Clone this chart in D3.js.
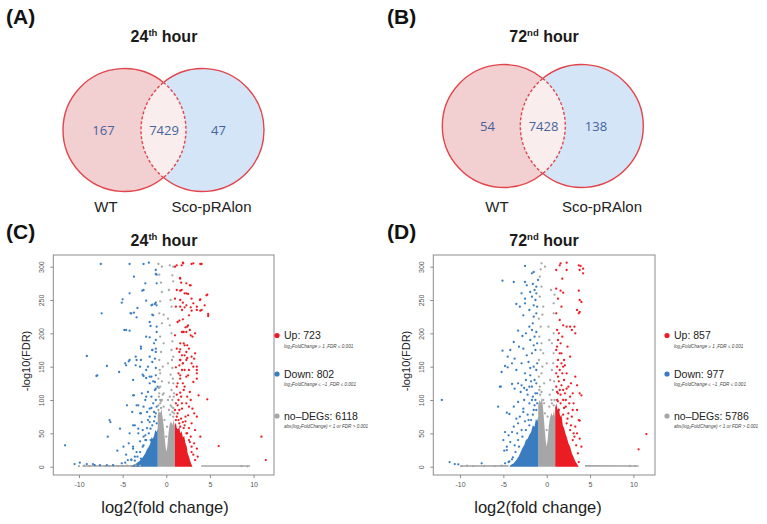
<!DOCTYPE html>
<html>
<head>
<meta charset="utf-8">
<script src="https://cdn.jsdelivr.net/npm/d3@7"></script>
<style>
  body{margin:0;background:#fff;}
  svg{display:block;font-family:"Liberation Sans",Arial,sans-serif;}
</style>
</head>
<body>
<svg id="fig" width="767" height="524"></svg>
<script>
// ---- data ----
var vennSets = ["WT", "Sco-pRAlon"];
var venn24 = [167, 7429, 47];   // WT only, both, Sco-pRAlon only
var venn72 = [54, 7428, 138];

var legendNames = ["Up", "Down", "no\u2013DEGs"];
var legendNotes = ["FoldChange \u2265 1 ,FDR \u2264 0.001",
                   "FoldChange \u2264 \u22121 ,FDR \u2264 0.001",
                   "FoldChange) < 1  or FDR > 0.001"];
var legendPre = ["log", "log", "abs(log"];
var legend24 = [723, 802, 6118];
var legend72 = [857, 977, 5786];

var xTicks = [-10, -5, 0, 5, 10];
var yTicks = [0, 50, 100, 150, 200, 250, 300];

// 24th hour: [log2FC, -log10FDR]
var up24 = [[1.0,300],[1.2,302],[1.9,306],[2.9,304],[3.9,304],[1.6,282],[1.7,276],[2.8,272],[1.2,265],[1.6,264],[2.3,260],[4.7,258],[3.9,251],[1.0,252],[1.9,246],[3.1,245],[1.1,240],[2.3,242],[1.8,235],[2.9,234],[3.5,235],[3.9,234],[4.8,226],[1.3,217],[2.5,212],[2.7,205],[1.8,202],[2.0,202],[3.0,195],[1.0,197],[1.2,177],[1.6,176],[1.8,167],[2.3,172],[2.9,165],[3.3,170],[1.6,160],[1.9,155],[1.1,149],[2.1,145],[2.5,137],[3.5,140],[3.1,127],[1.6,132],[1.2,120],[2.1,120],[2.7,112],[1.6,111],[4.7,101],[3.7,107],[1.4,100],[2.3,95],[1.8,87],[3.0,87],[2.5,77],[3.5,75],[1.2,75],[1.9,67],[2.9,65],[1.6,60],[3.3,55],[2.3,50],[3.9,45],[6.0,31],[10.9,45],[11.4,10],[2.7,37],[3.5,27],[2.9,22],
  [1.95,305],[3.1,305],[4.05,304],[1.76,302],[1.57,283],[2.7,272],[2.3,275],[1.76,265],[2.1,260],[2.5,259],[3.86,250],[4.6,257],[1.6,250],[2.9,252],[4.4,242],[4.8,229],[3.5,240],[4.05,235],[2.8,239],[2.1,239],[1.6,240],[2.6,227],[1.5,219],[1.9,221],[2.2,209],[2.4,210],[2.3,202],[2.8,197],[3.3,200],[1.9,202],[1.6,185],[2.0,185],[2.1,182],[2.4,182],[2.6,177],[1.5,172],[2.1,167],[2.4,163],[3.2,162],[1.6,160],[1.9,155],[2.3,160],[2.9,155],[3.5,150],[1.5,152],[1.8,145],[2.6,145],[3.1,150],[3.5,145],[1.6,137],[2.3,135],[3.5,132],
  [1.3,92],[1.7,105],[2.0,115],[2.6,90],[1.4,70],[2.1,62],[2.6,58],[1.3,125],[2.8,100],[3.2,80],[2.2,75],[1.5,65],
  [1.1,70],[1.3,80],[1.7,72],[2.0,58],[2.4,50],[2.6,40],[2.9,30],[3.1,18],[3.3,10],[2.8,45],[1.5,85],[2.2,68],[1.1,95],[1.2,108],[1.4,140],[1.9,125],[2.4,105],[1.0,85],[3.2,35],[3.6,15],[1.8,95]];
var down24 = [[-7.5,304],[-4.2,304],[-2.6,304],[-2.0,306],[-3.7,285],[-2.4,275],[-1.1,288],[-1.2,295],[-2.6,265],[-4.2,260],[-5.0,251],[-5.1,246],[-1.3,244],[-1.7,242],[-1.1,242],[-7.4,230],[-3.7,231],[-3.3,238],[-3.4,224],[-4.0,230],[-1.6,228],[-4.8,205],[-4.2,204],[-1.8,211],[-2.3,195],[-1.1,202],[-2.9,180],[-2.9,177],[-1.4,185],[-1.6,175],[-1.2,172],[-9.1,166],[-3.5,165],[-3.4,160],[-4.2,160],[-6.8,151],[-4.6,152],[-3.0,150],[-5.4,142],[-7.9,137],[-2.3,145],[-1.7,135],[-2.6,136],[-1.3,127],[-1.9,125],[-1.2,117],[-2.1,112],[-2.8,110],[-3.7,107],[-2.3,105],[-1.7,105],[-4.5,92],[-3.4,92],[-2.6,90],[-1.9,87],[-3.9,82],[-2.9,80],[-6.5,70],[-6.4,67],[-3.8,62],[-3.2,57],[-5.3,57],[-2.7,55],[-2.1,70],[-6.7,45],[-4.2,50],[-11.6,32],[-5.6,24],[-4.9,30],[-3.8,30],[-2.3,40],[-10.5,4],[-9.9,6],[-9.1,4],[-8.4,4],[-8.2,2.5],[-7.6,2.5],[-6.8,2.5],[-6.1,2.5],[-4.7,6],[-4.4,10],[-4.0,11],[-3.6,15],
  [-1.2,289],[-1.1,275],[-2.75,264],[-2.3,249],[-1.2,246],[-1.6,243],[-4.1,230],[-1.5,227],[-4.6,205],[-1.9,217],[-1.1,210],[-1.9,194],[-1.2,190],[-1.2,177],[-1.6,175],[-1.9,165],[-1.3,162],[-4.3,158],[-3.5,152],[-2.9,160],[-2.1,150],[-1.6,157],[-1.2,148],[-8.0,136],[-4.7,155],[-2.7,138],[-1.9,135],[-1.5,128],[-2.3,133],[-3.8,130],[-1.2,137],
  [-3.8,107],[-3.2,92],[-3.0,80],[-2.4,100],[-2.2,82],[-3.6,62],[-2.8,67],[-1.9,67],[-1.8,57],[-3.2,50],[-2.4,47],[-4.3,35],[-3.8,27],[-3.4,22],[-2.6,32],[-1.8,40],[-1.4,82],[-1.2,100],[-1.3,115],[-1.0,120],[-4.0,10],[-5.1,5],
  [-1.3,75],[-1.6,62],[-2.0,50],[-2.4,40],[-2.7,30],[-3.0,22],[-3.3,15],[-3.6,9],[-1.9,75],[-2.6,45],[-1.1,90],[-1.5,95],[-1.1,65],[-1.4,68],[-2.2,58],[-3.0,38],[-1.2,80],[-1.7,88],[-4.6,18],[-2.9,12]];
var nodeg24 = [[-0.9,304],[-0.5,300],[0.4,302],[0.8,300],[-0.8,288],[0.7,287],[-0.6,276],[0.8,278],[-0.5,262],[0.3,265],[0.5,250],[-0.7,248],[0.6,240],[-0.8,230],[-0.3,228],[0.2,222],[-0.5,215],[0.4,212],[0.6,200],[-0.7,195],[-0.3,185],[0.7,188],[0.6,175],[-0.6,172],[0.8,165],[-0.8,160],[0.2,155],[-0.4,150],[0.7,148],[-0.7,140],[0.5,138],[-0.9,132],[-0.5,128],[0.3,126],[0.8,125],[-0.7,120],[0.6,115],[-0.8,110],[-0.4,108],[0.4,105],[0.7,100],[-0.6,98],[-0.9,92],[0.5,92],[0.8,88],[-0.3,90],[0.9,80],[-0.7,100],[0.85,105],[-0.85,118],[0.75,132],[-0.75,145],[0.65,160],[0.9,110],[-0.9,85],
  [-0.7,95],[-0.5,100],[-0.2,70],[0.1,60],[0.3,85],[0.6,90],[0.8,75],[-0.85,105],[0.0,45],[-0.3,110],[0.2,100],[-0.6,88],[0.45,78],[0.7,82],
  [-10.0,1],[-9.4,1.5],[-8.8,1],[-7.0,1],[-6.5,0.8],[-6.0,1.2],[-5.5,1],[-5.0,1],[-4.5,1.5],[-4.0,1],[-3.5,2],[-3.0,1.5],[9.3,0.6],[8.6,0.8]];
var upCore24 = [[0.98,0],[0.98,62],[1.1,66],[1.2,58],[1.35,56],[1.5,60],[1.6,50],[1.75,53],[1.9,44],[2.05,46],[2.2,35],[2.35,30],[2.45,20],[2.6,15],[2.75,8],[2.9,3],[3.0,0]];
var downCore24 = [[-0.98,0],[-0.98,58],[-1.1,52],[-1.25,55],[-1.4,46],[-1.55,42],[-1.7,44],[-1.85,34],[-2.0,30],[-2.2,26],[-2.4,20],[-2.6,16],[-2.8,12],[-3.1,8],[-3.4,5],[-3.8,2.5],[-4.0,0]];
var nodegCore24 = [[-0.98,0],[-0.98,78],[-0.85,84],[-0.7,80],[-0.55,86],[-0.4,72],[-0.25,55],[-0.12,35],[0.0,22],[0.12,30],[0.25,50],[0.4,64],[0.55,68],[0.7,62],[0.85,70],[0.98,60],[0.98,0]];
var tail24 = [[-9.6,0],[-9.6,2.2],[-3.2,2.6],[-3.2,0],[4.0,0],[4.0,2.2],[9.6,2.0],[9.6,0]];

// 72nd hour
var up72 = [[1.5,302],[1.6,305],[2.3,306],[1.1,295],[1.8,282],[2.3,295],[3.7,302],[3.9,301],[4.2,297],[4.2,290],[3.8,295],[1.1,267],[1.6,264],[1.9,261],[3.7,264],[3.8,250],[4.0,247],[1.3,252],[1.7,240],[1.1,230],[1.5,220],[3.5,235],[3.7,230],[3.8,232],[1.9,212],[2.3,210],[2.7,210],[2.9,205],[3.2,210],[3.3,200],[1.3,190],[1.6,185],[1.2,180],[1.7,170],[1.3,160],[2.0,160],[2.7,165],[1.2,150],[1.5,145],[2.1,152],[2.3,140],[1.3,135],[3.3,135],[3.5,122],[3.8,110],[4.0,107],[1.7,122],[2.3,117],[2.7,105],[1.3,110],[1.9,100],[3.1,95],[3.5,85],[3.7,70],[3.8,69],[2.5,80],[2.9,75],[3.3,60],[3.8,42],[4.0,30],[3.5,50],[3.0,40],[11.5,49],[10.6,26],[3.7,7],
  [1.1,120],[1.4,128],[1.8,140],[2.0,130],[1.2,100],[1.6,95],[2.2,90],[1.4,85],[1.9,78],[2.6,95],[1.1,175],[1.4,200],[1.8,195],[1.2,205],[1.5,170],[2.4,180],[1.7,155],[1.9,115],[2.8,125],[3.0,110],[1.3,70],[2.3,65],[2.7,55],[3.2,45],[2.1,110],
  [1.2,112],[1.6,108],[2.0,88],[2.4,72],[2.8,62],[3.1,50],[3.4,32],[3.6,20],[1.1,140],[1.9,150],[2.5,120],[2.2,100],[1.5,115],[3.0,85],[1.3,98]];
var down72 = [[-2.5,301],[-1.7,290],[-1.5,292],[-5.1,279],[-3.8,277],[-2.5,277],[-2.3,272],[-1.6,274],[-1.2,270],[-1.9,262],[-2.9,260],[-1.2,260],[-2.5,252],[-1.7,255],[-3.5,244],[-2.5,245],[-3.1,240],[-1.5,242],[-2.0,235],[-2.7,227],[-1.5,225],[-1.2,230],[-3.3,204],[-2.8,196],[-2.4,200],[-2.0,210],[-1.7,205],[-1.2,202],[-3.8,187],[-3.2,180],[-4.2,175],[-2.7,177],[-1.9,190],[-1.5,182],[-5.1,174],[-4.5,165],[-3.7,162],[-2.3,167],[-1.7,170],[-4.8,151],[-4.5,149],[-5.2,142],[-4.0,155],[-2.9,155],[-2.1,157],[-1.5,150],[-3.5,145],[-2.5,140],[-1.9,137],[-5.3,120],[-4.0,124],[-3.7,117],[-2.9,122],[-2.3,115],[-1.7,120],[-1.2,125],[-12.1,100],[-5.6,90],[-4.6,81],[-4.3,79],[-3.8,90],[-3.3,97],[-2.7,87],[-2.0,95],[-1.5,85],[-4.8,52],[-4.4,47],[-3.8,60],[-3.3,65],[-2.9,55],[-4.9,24],[-4.6,30],[-4.2,37],[-3.7,32],[-3.3,40],[-11.2,7],[-10.6,4],[-10.2,3.5],[-7.5,5],[-4.8,5],[-4.4,7],[-4.0,11],
  [-1.3,110],[-1.6,105],[-2.2,108],[-2.6,100],[-1.1,95],[-1.4,130],[-1.8,128],[-2.4,130],[-3.0,112],[-1.2,145],[-1.9,148],[-2.6,118],[-3.1,75],[-2.2,78],[-1.8,70],[-2.5,68],[-3.5,72],[-2.0,62],[-1.3,100],[-1.1,155],[-1.3,175],[-1.1,185],[-1.4,195],[-1.6,215],[-1.1,240],[-1.3,250],[-1.0,280],[-1.4,265],[-5.4,120],[-4.0,52],[-5.0,40],[-4.6,25],[-3.3,125],
  [-1.2,85],[-1.6,78],[-2.4,55],[-2.8,45],[-3.2,30],[-3.6,22],[-3.9,14],[-4.3,8],[-2.1,70],[-1.4,92],[-2.7,82],[-3.4,50],[-1.1,110],[-2.0,120],[-1.7,100]];
var nodeg72 = [[-0.6,305],[-0.7,296],[-0.2,300],[-0.6,270],[-0.8,255],[-0.4,240],[0.8,245],[-0.9,222],[-0.7,210],[0.8,230],[0.2,210],[0.8,200],[-0.6,185],[0.6,185],[-0.4,170],[0.8,170],[-0.9,160],[0.0,155],[0.6,145],[-0.6,140],[0.4,130],[-0.8,120],[0.7,115],[-0.4,100],[0.6,95],[-0.8,285],[0.5,265],[0.9,258],[-0.5,228],[0.3,190],[-0.85,195],[-0.7,175],[0.75,155],[-0.3,125],[0.85,128],[-0.9,135],[-0.75,108],[0.35,108],[0.9,100],[-0.5,150],
  [-0.6,112],[-0.3,95],[0.1,75],[0.3,90],[0.55,100],[0.8,92],[-0.85,115],[0.0,55],[-0.2,80],
  [-9.8,1],[-9.2,1.5],[-8.5,1],[-7.2,1.2],[-6.0,1],[-5.2,1.5],[10.2,1],[9.6,1.2]];
var upCore72 = [[0.98,0],[0.98,88],[1.1,95],[1.25,85],[1.4,88],[1.55,75],[1.7,78],[1.85,62],[2.0,58],[2.15,50],[2.3,45],[2.5,35],[2.7,30],[2.9,20],[3.1,14],[3.3,8],[3.5,4],[3.7,0]];
var downCore72 = [[-0.98,0],[-0.98,75],[-1.1,68],[-1.25,72],[-1.4,60],[-1.6,62],[-1.8,52],[-2.0,48],[-2.2,42],[-2.4,40],[-2.6,32],[-2.8,28],[-3.0,22],[-3.2,16],[-3.5,10],[-3.8,5],[-4.2,2],[-4.3,0]];
var nodegCore72 = [[-0.98,0],[-0.98,92],[-0.85,100],[-0.7,96],[-0.55,104],[-0.4,85],[-0.25,60],[-0.12,40],[0.0,30],[0.12,42],[0.25,62],[0.4,75],[0.55,80],[0.7,76],[0.85,84],[0.98,72],[0.98,0]];
var tail72 = [[-10.0,0],[-10.0,2.2],[-4.4,2.6],[-4.4,0],[4.4,0],[4.4,2.4],[10.6,2.0],[10.6,0]];

var red = "#ec1c24", blue = "#3a7cc0", grey = "#a6a6a6";

var svg = d3.select("#fig");

function title(x, y, num, sup){
  var t = svg.append("text").attr("x", x).attr("y", y)
            .attr("text-anchor", "middle")
            .style("font-weight", "bold").style("font-size", "16px").attr("fill", "#1a1a1a");
  t.append("tspan").text(num);
  t.append("tspan").text(sup).style("font-size", "9.5px").attr("dy", -6);
  t.append("tspan").text(" hour").attr("dy", 6);
}
function tag(x, y, s){
  svg.append("text").attr("x", x).attr("y", y).text(s)
     .style("font-weight", "bold").style("font-size", "21px").attr("fill", "#111");
}

//venn with two equal circles
function venn(p, counts){
  var r = p.r, a = Math.acos((p.x2 - p.x1) / 2 / r);
  var g = svg.append("g");
  g.append("circle").attr("cx", p.x1).attr("cy", p.cy).attr("r", r).attr("fill", "#f2cfd0");
  g.append("circle").attr("cx", p.x2).attr("cy", p.cy).attr("r", r).attr("fill", "#d5e5f8");
  var lens = d3.path();
  lens.arc(p.x1, p.cy, r, -a, a);
  lens.arc(p.x2, p.cy, r, Math.PI - a, Math.PI + a);
  lens.closePath();
  g.append("path").attr("d", lens.toString()).attr("fill", "#f9eded");

  var outer1 = d3.path(); outer1.arc(p.x1, p.cy, r, a, 2*Math.PI - a);
  var outer2 = d3.path(); outer2.arc(p.x2, p.cy, r, Math.PI + a, 3*Math.PI - a);
  var inner1 = d3.path(); inner1.arc(p.x1, p.cy, r, -a, a);
  var inner2 = d3.path(); inner2.arc(p.x2, p.cy, r, Math.PI - a, Math.PI + a);
  [outer1, outer2].forEach(function(d){
    g.append("path").attr("d", d.toString()).attr("fill", "none")
     .attr("stroke", "#e2454c").attr("stroke-width", 1.4);
  });
  [inner1, inner2].forEach(function(d){
    g.append("path").attr("d", d.toString()).attr("fill", "none")
     .attr("stroke", "#e2454c").attr("stroke-width", 1.4).attr("stroke-dasharray", "3,2");
  });

  g.selectAll("text.n").data(counts).enter().append("text")
   .attr("class", "n")
   .attr("x", function(d, i){ return p.nx[i]; })
   .attr("y", p.cy + 4.5)
   .attr("text-anchor", "middle")
   .style("font-family", "'Open Sans', sans-serif").style("font-size", "13px")
   .attr("fill", "#45649c")
   .text(function(d){ return d; });
  g.selectAll("text.s").data(vennSets).enter().append("text")
   .attr("class", "s")
   .attr("x", function(d, i){ return p.lx[i]; })
   .attr("y", 212)
   .attr("text-anchor", "middle")
   .style("font-size", "15px").attr("fill", "#222")
   .text(function(d){ return d; });
}

function volcano(p, up, down, nodeg, cores, tail, counts){
  var top = 255, bottom = 475;
  var x = d3.scaleLinear().domain(p.xDomain).range([p.left, p.right]);
  var y = d3.scaleLinear().domain([-12.45, 317.5]).range([bottom, top]);
  var g = svg.append("g");

  var poly = d3.line().x(function(d){ return x(d[0]); }).y(function(d){ return y(d[1]); });
  g.append("path").attr("d", poly(tail.slice(0, 4)) + "Z").attr("fill", grey);
  g.append("path").attr("d", poly(tail.slice(4)) + "Z").attr("fill", grey);
  g.append("path").attr("d", poly(cores[2]) + "Z").attr("fill", grey);
  g.append("path").attr("d", poly(cores[1]) + "Z").attr("fill", blue);
  g.append("path").attr("d", poly(cores[0]) + "Z").attr("fill", red);

  [[nodeg, grey], [down, blue], [up, red]].forEach(function(s){
    g.append("g").selectAll("circle").data(s[0]).enter().append("circle")
     .attr("cx", function(d){ return x(d[0]); })
     .attr("cy", function(d){ return y(d[1]); })
     .attr("r", 1.15)
     .attr("fill", s[1]);
  });

  g.append("rect").attr("x", p.left).attr("y", top)
   .attr("width", p.right - p.left).attr("height", bottom - top)
   .attr("fill", "none").attr("stroke", "#8c8c8c").attr("stroke-width", 1);

  var xa = g.append("g").attr("transform", "translate(0," + bottom + ")")
            .call(d3.axisBottom(x).tickValues(xTicks).tickSize(3).tickPadding(4)
                    .tickFormat(function(d){ return d; }));
  var ya = g.append("g").attr("transform", "translate(" + p.left + ",0)")
            .call(d3.axisLeft(y).tickValues(yTicks).tickSize(3));
  [xa, ya].forEach(function(a){
    a.select(".domain").remove();
    a.selectAll("line").attr("stroke", "#8c8c8c");
    a.selectAll("text").attr("fill", "#555").style("font-size", "7px")
     .style("font-family", "'Liberation Sans',Arial,sans-serif");
  });
  ya.selectAll("text").attr("transform", "rotate(-90)")
    .attr("x", 0).attr("y", -9).attr("dy", 0).attr("text-anchor", "middle");

  g.append("text").attr("transform", "translate(" + (p.left - 23.5) + ",361) rotate(-90)")
   .attr("text-anchor", "middle").style("font-size", "11px").attr("fill", "#222")
   .text("-log10(FDR)");
  g.append("text").attr("x", p.labelX).attr("y", 513)
   .attr("text-anchor", "middle").style("font-size", "16.5px").attr("fill", "#222")
   .text("log2(fold change)");

  //legend
  var lg = g.append("g").attr("transform", "translate(" + p.legX + ",0)");
  var ly = [335.5, 374, 416];
  var cols = [red, blue, grey];
  counts.forEach(function(c, i){
    lg.append("circle").attr("cx", 0).attr("cy", ly[i]).attr("r", 2.6).attr("fill", cols[i]);
    lg.append("text").attr("x", 7).attr("y", ly[i] + 3.6)
      .style("font-size", "10.5px").attr("fill", "#222")
      .text(legendNames[i] + ": " + c);
    var n = lg.append("text").attr("x", 7).attr("y", ly[i] + 12)
              .style("font-size", "4.6px").style("font-style", "italic").attr("fill", "#444");
    n.append("tspan").text(legendPre[i]);
    n.append("tspan").text("2").attr("dy", 1).style("font-size", "3.4px");
    n.append("tspan").text(legendNotes[i]).attr("dy", -1);
  });
}

tag(6, 24, "(A)"); tag(387, 24, "(B)");
tag(6, 239, "(C)"); tag(387, 239, "(D)");
title(164, 42, "24", "th"); title(544, 42, "72", "nd");
title(164, 246, "24", "th"); title(544, 246, "72", "nd");

venn({x1: 124.5, x2: 202.5, cy: 130, r: 61.5, nx: [103.5, 164, 218.5], lx: [106, 211.5]}, venn24);
venn({x1: 503.8, x2: 581.8, cy: 126, r: 61.5, nx: [487.5, 543.5, 596], lx: [497, 602]}, venn72);

volcano({left: 53.3, right: 274, xDomain: [-12.94, 12.34], labelX: 165, legX: 277},
        up24, down24, nodeg24, [upCore24, downCore24, nodegCore24], tail24, legend24);
volcano({left: 433.3, right: 655, xDomain: [-13.08, 12.49], labelX: 538, legX: 667},
        up72, down72, nodeg72, [upCore72, downCore72, nodegCore72], tail72, legend72);
</script>
</body>
</html>
